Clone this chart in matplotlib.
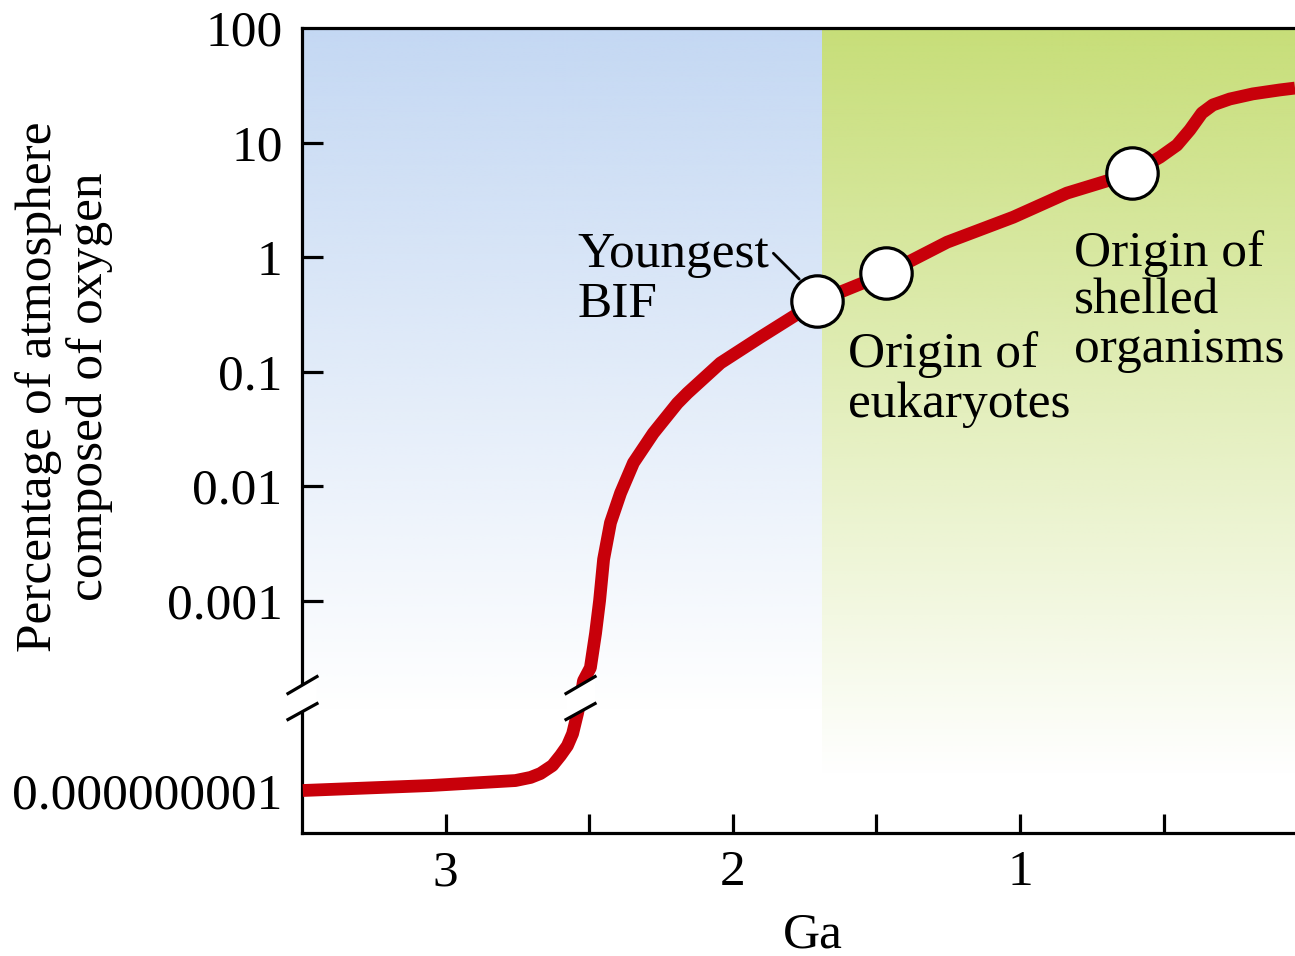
import numpy as np
import matplotlib
matplotlib.use("Agg")
import matplotlib.pyplot as plt
import matplotlib.transforms as mtransforms
from matplotlib.ticker import FixedLocator, FixedFormatter, NullFormatter

plt.rcParams['font.family'] = ['Liberation Serif', 'DejaVu Serif']

# oxygen curve: age (Ga) and % of atmosphere
ga = [3.497, 3.052, 2.757, 2.704, 2.670, 2.628, 2.600, 2.576, 2.558, 2.541,
      2.530, 2.520, 2.496, 2.478, 2.464, 2.450, 2.426, 2.391, 2.346, 2.277,
      2.193, 2.158, 2.043, 1.904, 1.706, 1.466, 1.254, 1.024, 0.837, 0.610,
      0.513, 0.454, 0.409, 0.367, 0.329, 0.270, 0.190, 0.096, 0.043]
oxygen = [1.0e-9, 1.9e-9, 3.6e-9, 5.4e-9, 8.9e-9, 2.5e-8, 9.1e-8, 3.2e-7, 1.5e-6, 2.0e-5,
          1.4e-4, 2.0e-4, 2.6e-4, 5.2e-4, 1.0e-3, 2.3e-3, 4.8e-3, 8.7e-3, 0.016, 0.029,
          0.053, 0.065, 0.119, 0.20, 0.41, 0.72, 1.35, 2.23, 3.62, 5.4,
          7.46, 9.5, 12.9, 18.1, 21.3, 24.0, 26.6, 28.8, 29.9]

event_ga = [1.706, 1.466, 0.610]
event_pct = [0.41, 0.72, 5.4]
event_labels = ['Youngest\nBIF', 'Origin of\neukaryotes', 'Origin of\nshelled\norganisms']

xtick_major = [3, 2, 1]
xtick_minor = [2.5, 1.5, 0.5]
ytick_major = [10, 1, 0.1, 0.01, 0.001]
ytick_major_labels = ['10', '1', '0.1', '0.01', '0.001']
ytick_extra = [1e-9, 100]
ytick_extra_labels = ['0.000000001', '100']

BREAK = 1.4e-4      # where the y axis is broken
SQUEEZE = 0.156     # compression of decades below the break
GREEN_START = 1.69  # Ga where the green band begins

RED = '#c8000a'
FS = 37


def fwd(v):
    lv = np.log10(np.maximum(v, 1e-300))
    lb = np.log10(BREAK)
    return np.where(lv >= lb, lv, lb + (lv - lb) * SQUEEZE)


def inv(p):
    lb = np.log10(BREAK)
    return 10 ** np.where(p >= lb, p, lb + (p - lb) / SQUEEZE)


fig = plt.figure(figsize=(12.95, 9.56), dpi=100)
rect = [0.2332, 0.1287, 0.7668, 0.842]
xlim = (3.5, 0.043)

# background gradients
bg = fig.add_axes(rect, zorder=0)
yy = np.linspace(0, 1, 400)[:, None]

blue = np.ones((400, 1, 4))
blue[..., :3] = np.array([196, 216, 243]) / 255
blue[..., 3] = np.clip((yy - 0.15) / 0.85, 0, 1)
bg.imshow(blue, extent=(xlim[0], GREEN_START, 0, 1), origin='lower', aspect='auto')

green = np.ones((400, 1, 4))
green[..., :3] = np.array([199, 222, 120]) / 255
green[..., 3] = np.clip((yy - 0.07) / 0.93, 0, 1)
bg.imshow(green, extent=(GREEN_START, xlim[1], 0, 1), origin='lower', aspect='auto')
bg.set_xlim(*xlim)
bg.set_ylim(0, 1)
bg.axis('off')

ax = fig.add_axes(rect, zorder=1)
ax.patch.set_visible(False)
ax.set_yscale('function', functions=(fwd, inv))
ax.set_xlim(*xlim)
ax.set_ylim(4.2e-12, 100)

ax.plot(ga, oxygen, color=RED, lw=9.2, solid_capstyle='butt',
        solid_joinstyle='round', zorder=3)
ax.plot(event_ga, event_pct, 'o', ms=37, mfc='white', mec='black', mew=2.3, zorder=5)

for s in ['left', 'bottom', 'top']:
    ax.spines[s].set_linewidth(2.3)
ax.spines['right'].set_visible(False)

ax.xaxis.set_major_locator(FixedLocator(xtick_major))
ax.xaxis.set_major_formatter(FixedFormatter([str(v) for v in xtick_major]))
ax.xaxis.set_minor_locator(FixedLocator(xtick_minor))
ax.xaxis.set_minor_formatter(NullFormatter())
ax.tick_params(axis='x', which='both', direction='in', length=14, width=2.3,
               labelsize=FS, pad=12, top=False)

ax.yaxis.set_major_locator(FixedLocator(ytick_major))
ax.yaxis.set_major_formatter(FixedFormatter(ytick_major_labels))
ax.yaxis.set_minor_locator(FixedLocator(ytick_extra))
ax.yaxis.set_minor_formatter(FixedFormatter(ytick_extra_labels))
ax.tick_params(axis='y', which='major', direction='in', length=15, width=2.3,
               labelsize=FS, pad=14)
ax.tick_params(axis='y', which='minor', direction='in', length=0,
               labelsize=FS, pad=14)

ax.set_ylabel('Percentage of atmosphere\ncomposed of oxygen', fontsize=FS,
              va='center', linespacing=1.1)
ax.yaxis.set_label_coords(-0.2397, 0.5547)
ax.set_xlabel('Ga', fontsize=FS, va='center')
ax.xaxis.set_label_coords(0.514, -0.127)

# event labels (anchored at the baseline of their last line)
ax.text(2.541, 0.299, event_labels[0], fontsize=FS, va='baseline', ha='left', linespacing=1.1)
ax.text(1.598, 0.0401, event_labels[1], fontsize=FS, va='baseline', ha='left', linespacing=1.1)
ax.text(0.812, 0.121, event_labels[2], fontsize=FS, va='baseline', ha='left', linespacing=1.05)
ax.annotate('', xy=(1.769, 0.643), xytext=(1.859, 1.08),
            arrowprops=dict(arrowstyle='-', lw=2, color='black', shrinkA=0, shrinkB=0))

# axis break marks (left axis and on the curve)
for bx in [xlim[0], 2.532]:
    tr = fig.dpi_scale_trans + mtransforms.ScaledTranslation(bx, BREAK, ax.transData)
    gap = plt.Polygon([(-0.14, 0.05), (0.15, 0.22), (0.15, -0.05), (-0.14, -0.21)],
                      closed=True, facecolor='white', edgecolor='none',
                      transform=tr, clip_on=False, zorder=3.5)
    ax.add_patch(gap)
    ax.plot([-0.14, 0.15], [0.05, 0.22], color='black', lw=2.3, transform=tr,
            clip_on=False, zorder=4)
    ax.plot([-0.14, 0.15], [-0.21, -0.05], color='black', lw=2.3, transform=tr,
            clip_on=False, zorder=4)

fig.savefig('out.png', dpi=100)
